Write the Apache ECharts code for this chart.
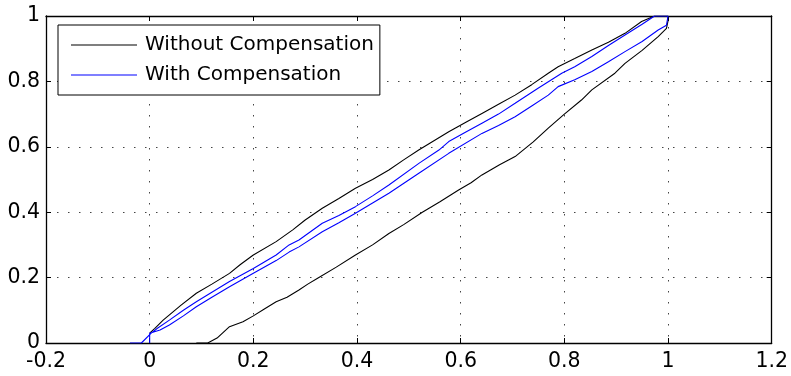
<!DOCTYPE html>
<html>
<head>
<meta charset="utf-8">
<script src="https://cdn.jsdelivr.net/npm/echarts@6/dist/echarts.min.js"></script>
<style>html,body{margin:0;padding:0;background:#fff}#c{width:791px;height:376px}</style>
</head>
<body>
<div id="c"></div>
<script>
// Tick labels / axis ranges
const xTicks = [-0.2, 0, 0.2, 0.4, 0.6, 0.8, 1, 1.2];
const yTicks = [0, 0.2, 0.4, 0.6, 0.8, 1];
const seriesNames = ['Without Compensation', 'With Compensation'];

// Without Compensation: rising branch then falling branch
const withoutRise = [
  [0.09,0],[0.112,0],[0.13,0.015],[0.154,0.05],[0.18,0.065],[0.2,0.083],[0.222,0.105],
  [0.244,0.126],[0.265,0.14],[0.288,0.162],[0.305,0.18],[0.324,0.198],[0.36,0.232],
  [0.397,0.269],[0.43,0.3],[0.4615,0.335],[0.49,0.362],[0.526,0.4],[0.56,0.432],
  [0.596,0.468],[0.62,0.49],[0.641,0.514],[0.675,0.545],[0.705,0.57],[0.74,0.615],
  [0.769,0.657],[0.8,0.7],[0.833,0.743],[0.853,0.774],[0.8975,0.825],[0.917,0.855],
  [0.95,0.895],[0.981,0.937],[0.997,0.962],[1.0,0.985],[1.0,1.0]
];
const withoutFall = [
  [0.974,1.0],[0.949,0.983],[0.917,0.947],[0.885,0.92],[0.853,0.896],[0.82,0.87],
  [0.788,0.845],[0.769,0.825],[0.737,0.79],[0.705,0.758],[0.673,0.73],[0.641,0.702],
  [0.61,0.675],[0.577,0.646],[0.519,0.59],[0.49,0.56],[0.4615,0.529],[0.43,0.5],
  [0.397,0.473],[0.365,0.442],[0.333,0.412],[0.3,0.376],[0.276,0.346],[0.244,0.31],
  [0.2,0.269],[0.175,0.24],[0.154,0.213],[0.12,0.18],[0.09,0.152],[0.06,0.115],
  [0.026,0.07],[0.01,0.045],[0.0,0.03]
];
// With Compensation: rising branch then falling branch
const withRise = [
  [0,0],[0,0.03],[0.02,0.04],[0.038,0.055],[0.065,0.083],[0.09,0.111],[0.12,0.14],
  [0.154,0.172],[0.2,0.213],[0.244,0.252],[0.269,0.278],[0.288,0.294],[0.333,0.34],
  [0.365,0.368],[0.397,0.397],[0.43,0.428],[0.4615,0.458],[0.52,0.52],[0.577,0.58],
  [0.641,0.641],[0.673,0.665],[0.705,0.692],[0.737,0.725],[0.769,0.758],[0.788,0.784],
  [0.82,0.805],[0.853,0.83],[0.885,0.86],[0.917,0.891],[0.95,0.922],[0.981,0.957],
  [0.997,0.972],[1.0,1.0]
];
const withFall = [
  [0.974,1.0],[0.95,0.975],[0.917,0.942],[0.885,0.91],[0.853,0.876],[0.82,0.845],
  [0.795,0.825],[0.75,0.78],[0.705,0.733],[0.673,0.7],[0.641,0.672],[0.61,0.645],
  [0.577,0.616],[0.558,0.59],[0.52,0.55],[0.4615,0.483],[0.43,0.45],[0.397,0.417],
  [0.365,0.39],[0.333,0.366],[0.288,0.315],[0.269,0.3],[0.244,0.269],[0.2,0.228],
  [0.154,0.188],[0.12,0.155],[0.09,0.126],[0.065,0.1],[0.038,0.07],[0.015,0.045],
  [0.003,0.03],[-0.016,0],[-0.038,0]
];

const FONT = 'DejaVu Sans';
const chart = echarts.init(document.getElementById('c'), null, {renderer:'canvas'});
const xMin = xTicks[0], xMax = xTicks[xTicks.length-1], xInt = 0.2;
const yMin = yTicks[0], yMax = yTicks[yTicks.length-1], yInt = 0.2;
const splitStyle = {show:true, lineStyle:{color:'#444', width:1, type:[1.5,9.5]}};
function xAx(pos, labels) {
  return {
    type:'value', position:pos, min:xMin, max:xMax, interval:xInt,
    axisLine:{show:true, onZero:false, lineStyle:{color:'#000', width:1.3}},
    axisTick:{show:true, inside:true, length:5, lineStyle:{color:'#000'}},
    axisLabel:{show:labels, color:'#000', fontFamily:FONT, fontSize:20.5, margin:8},
    splitLine: labels ? splitStyle : {show:false}
  };
}
function yAx(pos, labels) {
  return {
    type:'value', position:pos, min:yMin, max:yMax, interval:yInt,
    axisLine:{show:true, onZero:false, lineStyle:{color:'#000', width:1.3}},
    axisTick:{show:true, inside:true, length:5, lineStyle:{color:'#000'}},
    axisLabel:{show:labels, color:'#000', fontFamily:FONT, fontSize:20.5, margin:6},
    splitLine: labels ? splitStyle : {show:false}
  };
}
chart.setOption({
  animation:false,
  backgroundColor:'#fff',
  grid:{left:46, right:17, top:16, bottom:33, containLabel:false},
  xAxis:[xAx('bottom', true), xAx('top', false)],
  yAxis:[yAx('left', true), yAx('right', false)],
  legend:{
    show:true, orient:'vertical', left:58, top:25,
    padding:[10,6,10,13], itemGap:10, itemWidth:66, itemHeight:1.2,
    icon:'rect',
    backgroundColor:'#fff', borderColor:'#000', borderWidth:1,
    textStyle:{color:'#000', fontFamily:FONT, fontSize:20, lineHeight:20, padding:[0,0,0,3]},
    data: seriesNames
  },
  series:[
    {name:seriesNames[0], type:'line', symbol:'none', showSymbol:false, z:2,
     data: withoutRise.concat(withoutFall),
     lineStyle:{color:'#000', width:1.1}, itemStyle:{color:'#000'}},
    {name:seriesNames[1], type:'line', symbol:'none', showSymbol:false, z:3,
     data: withRise.concat(withFall),
     lineStyle:{color:'#0000ff', width:1.1}, itemStyle:{color:'#0000ff'}}
  ]
});
</script>
</body>
</html>
